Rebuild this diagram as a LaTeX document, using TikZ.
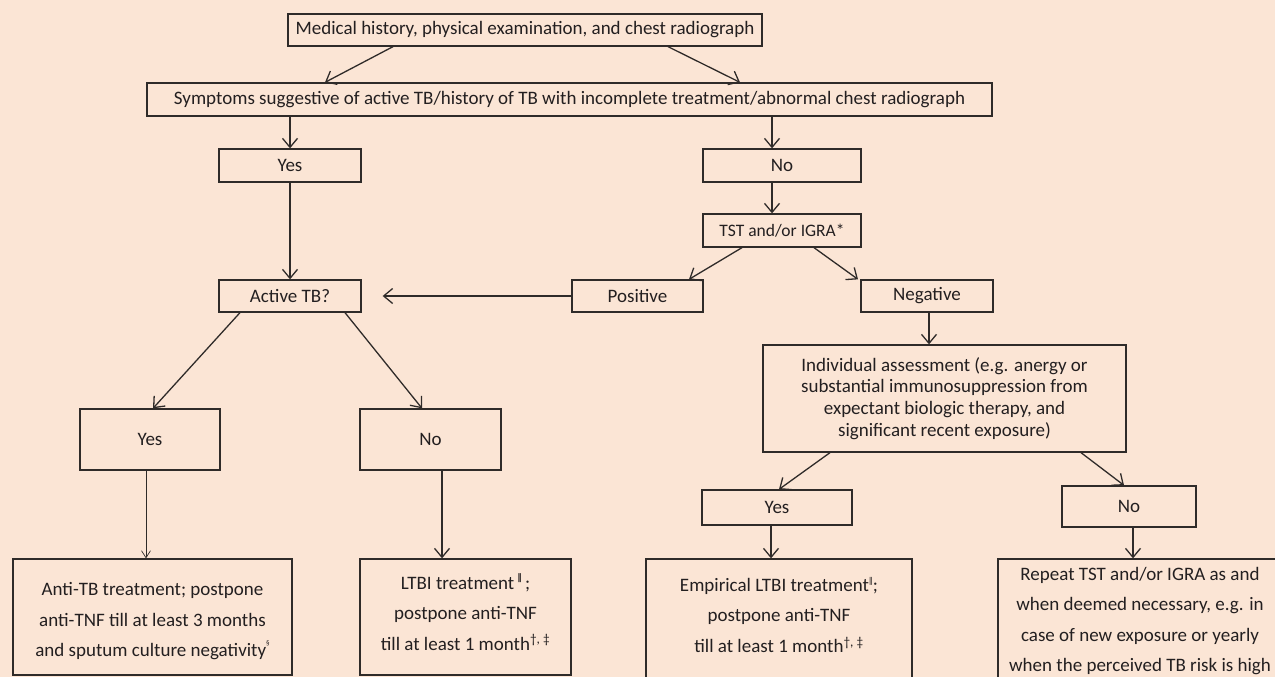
\documentclass[tikz,border=0pt]{standalone}
\usepackage{fontspec}
\setmainfont{Carlito}
\newfontfamily\dejavu{DejaVu Sans}
\usetikzlibrary{arrows.meta}
\definecolor{bgc}{HTML}{FBE5D5}
\definecolor{linec}{HTML}{2F2B29}
\definecolor{txtc}{HTML}{231F20}
\begin{document}
\begin{tikzpicture}[x=1pt,y=-1pt,
 box/.style={draw=linec, line width=1.3pt, inner sep=0pt, align=center, text=txtc, font=\fontsize{19}{22}\selectfont},
 arr/.style={draw=linec, line width=1.3pt, -{Straight Barb[length=9pt,width=15pt]}},
 thinarr/.style={draw=linec, line width=0.7pt, -{Straight Barb[length=7pt,width=9pt]}},
 wide/.style={font=\fontsize{19}{30.5}\selectfont}
]
\fill[bgc] (0,0) rectangle (1275,677);
\useasboundingbox (0,0) rectangle (1275,677);
\clip (0,0) rectangle (1275,677);

\node[box, minimum width=474pt, minimum height=32pt] (top) at (525,30) {Medical history, physical examination, and chest radiograph};
\node[box, minimum width=845pt, minimum height=33pt] (sym) at (569.5,99.5) {Symptoms suggestive of active TB/history of TB with incomplete treatment/abnormal chest radiograph};
\node[box, minimum width=142pt, minimum height=33pt] (yes1) at (290,165.5) {Yes};
\node[box, minimum width=158pt, minimum height=33pt] (no1) at (782,165.5) {No};
\node[box, minimum width=158pt, minimum height=33pt, font=\fontsize{17.5}{20}\selectfont] (tst) at (782,230.5) {TST and/or IGRA*};
\node[box, minimum width=142pt, minimum height=32pt] (act) at (290,296) {Active TB?};
\node[box, minimum width=131pt, minimum height=32pt] (pos) at (637.5,296) {Positive};
\node[box, minimum width=132pt, minimum height=32pt] (neg) at (927,296) {Negative};
\node[box, minimum width=363pt, minimum height=107pt, font=\fontsize{19}{21.7}\selectfont] (ass) at (944.5,398.5) {Individual assessment (e.g. anergy or\\ substantial immunosuppression from\\ expectant biologic therapy, and\\ significant recent exposure)};
\node[box, minimum width=140pt, minimum height=61pt] (yes3) at (150,439.5) {Yes};
\node[box, minimum width=141pt, minimum height=61pt] (no3) at (430.5,439.5) {No};
\node[box, wide, minimum width=279pt, minimum height=116pt] (anti) at (152.5,617) {\mbox{}\\[-9pt] Anti-TB treatment; postpone\\ anti-TNF till at least 3 months\\ and sputum culture negativity\raisebox{1.2ex}{\fontsize{7}{7}\selectfont §}};
\node[box, wide, minimum width=211pt, minimum height=116pt] (ltbi) at (465.5,617) {LTBI treatment\,\raisebox{0.9ex}{\fontsize{9}{9}\selectfont\dejavu\bfseries ‖}\,;\\ postpone anti-TNF\\ till at least 1 month\textsuperscript{†, ‡}\\[-20.5pt] \mbox{}};
\node[box, minimum width=150pt, minimum height=35pt] (yes2) at (777,507.5) {Yes};
\node[box, minimum width=134pt, minimum height=41pt] (no2) at (1129,506.5) {No};
\node[box, wide, minimum width=266pt, minimum height=142pt] (emp) at (779,630) {Empirical LTBI treatment\raisebox{0.9ex}{\fontsize{8}{8}\selectfont\dejavu ‖};\\ postpone anti-TNF\\ till at least 1 month\textsuperscript{†, ‡}\\ \mbox{}};
\node[box, wide, minimum width=284pt, minimum height=124pt] (rep) at (1140,621) {Repeat TST and/or IGRA as and\\ when deemed necessary, e.g. in\\ case of new exposure or yearly\\ when the perceived TB risk is high};

\draw[arr] ([xshift=-132pt]top.south) -- ([xshift=-244.5pt]sym.north);
\draw[arr] ([xshift=143pt]top.south) -- ([xshift=170.5pt]sym.north);
\draw[arr] ([xshift=-279.5pt]sym.south) -- (yes1.north);
\draw[arr] ([xshift=202.5pt]sym.south) -- ([xshift=-10pt]no1.north);
\draw[arr] (yes1.south) -- (act.north);
\draw[arr] ([xshift=-10pt]no1.south) -- ([xshift=-10pt]tst.north);
\draw[arr] ([xshift=-40pt]tst.south) -- ([xshift=51.5pt]pos.north);
\draw[arr] ([xshift=32pt]tst.south) -- ([xshift=-69pt]neg.north);
\draw[arr] (pos.west) -- ([xshift=21pt]act.east);
\draw[arr] ([xshift=2pt]neg.south) -- ([xshift=-15.5pt]ass.north);
\draw[arr] ([xshift=-114.5pt]ass.south) -- ([xshift=2pt]yes2.north);
\draw[arr] ([xshift=136.5pt]ass.south) -- ([xshift=-5pt]no2.north);
\draw[arr] ([xshift=-6pt]yes2.south) -- ([xshift=-8pt]emp.north);
\draw[arr] ([xshift=4pt]no2.south) -- ([xshift=-7pt]rep.north);
\draw[arr] ([xshift=-50pt]act.south) -- ([xshift=3pt]yes3.north);
\draw[arr] ([xshift=55pt]act.south) -- ([xshift=-8.5pt]no3.north);
\draw[thinarr] ([xshift=-4pt]yes3.south) -- ([xshift=-6.5pt]anti.north);
\draw[arr] ([xshift=11.5pt]no3.south) -- ([xshift=-23.5pt]ltbi.north);
\end{tikzpicture}
\end{document}
